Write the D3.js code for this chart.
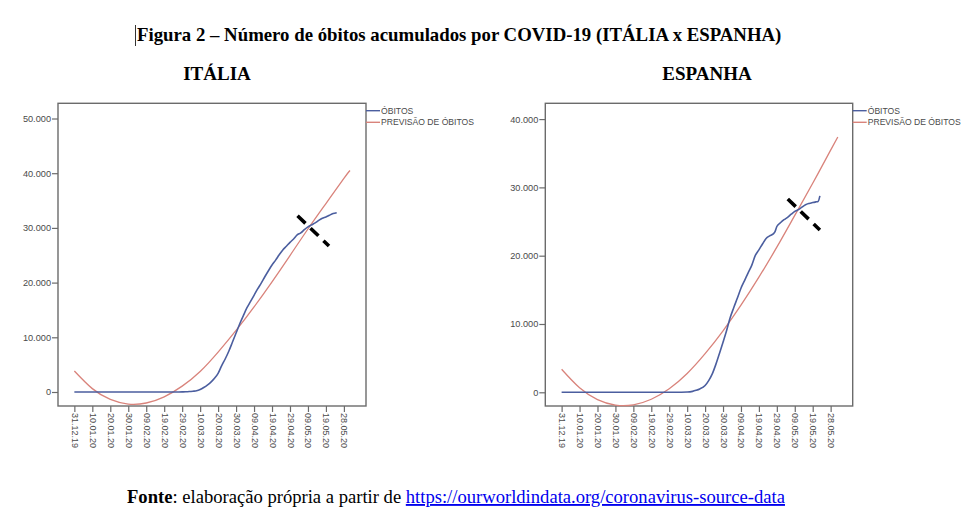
<!DOCTYPE html>
<html><head><meta charset="utf-8">
<script src="https://cdn.jsdelivr.net/npm/d3@7"></script>
<style>
html,body{margin:0;padding:0;background:#fff;}
svg{display:block;}
</style></head>
<body>
<svg id="chart" width="980" height="532"></svg>
<script>
// ---------- DATA ----------
const xTickDays = [0,10,20,30,40,50,60,70,80,90,100,110,120,130,140,150];
const xTickLabels = ["31.12.19","10.01.20","20.01.20","30.01.20","09.02.20","19.02.20","29.02.20","10.03.20","20.03.20","30.03.20","09.04.20","19.04.20","29.04.20","09.05.20","19.05.20","28.05.20"];

const italyYTicks = [0,10000,20000,30000,40000,50000];
const spainYTicks = [0,10000,20000,30000,40000];

// ITÁLIA – óbitos acumulados (day index from 31.12.19)
const italyDays   = [0,54,55,58,60,62,64,66,68,70,72,74,76,78,80,82,84,86,88,90,92,94,96,98,100,102,104,106,108,110,112,114,116,118,120,122,124,126,128,130,132,134,136,138,140,142,144,146];
const italyDeaths = [0,0,3,12,21,34,79,148,233,463,827,1266,1809,2503,3405,4825,6077,7503,9134,10779,12428,13915,15362,16523,17669,18849,19899,21067,22170,23227,24114,25085,25969,26644,27359,27967,28710,29079,29684,30201,30560,30911,31368,31763,32007,32330,32616,32785];
// ITÁLIA – previsão de óbitos
const italyFcDays = [0,10,20,30,40,50,60,70,80,90,100,110,120,130,140,150,153.4];
const italyFc     = [3840,617,-1364,-2205,-2010,-884,1071,3751,7300,11250,15550,20150,24950,29800,34450,39050,40500];
const italyMarker = [[124.2,32230],[141.7,26690]];

// ESPANHA – óbitos acumulados
const spainDays   = [0,60,63,66,70,73,75,77,80,82,84,86,88,90,92,94,96,98,100,102,104,106,108,110,112,114,116,118,119,120,122,124,126,128,130,132,134,136,138,140,142,143,144];
const spainDeaths = [0,0,1,10,35,136,288,491,1002,1720,2696,4089,5690,7340,9053,10935,12418,13798,15238,16353,17489,18579,20043,20852,21717,22524,22902,23190,23521,24275,24824,25264,25613,26070,26478,26744,27104,27459,27650,27778,27888,27940,28752];
// ESPANHA – previsão de óbitos
const spainFcDays = [0,10,20,30,40,50,60,70,80,90,100,110,120,130,140,150,154];
const spainFc     = [3370,661,-1066,-1876,-1838,-1019,515,2750,5650,9000,12750,16850,21250,25900,30600,35450,37380];
const spainMarker = [[126.1,28300],[144.0,23760]];

const legendLabels = ["ÓBITOS","PREVISÃO DE ÓBITOS"];

// ---------- DRAW ----------
const svg = d3.select("#chart");
svg.append("rect").attr("width",980).attr("height",532).attr("fill","#fff");

const BLUE = "#4b5e9f", RED = "#d9837b", AX = "#6b6b6b", TXT = "#4a4a4a";
const fmt = v => d3.format(",")(v).replace(/,/g,".");

function panel(o){
  const g = svg.append("g").attr("transform",`translate(${o.left},${o.top})`);
  const W = o.width, H = o.height;
  const x = d3.scaleLinear().domain([-9.1,162.3]).range([0,W]);
  const y = d3.scaleLinear().domain(o.yDomain).range([H,0]);

  // y axis
  const ya = g.append("g").call(d3.axisLeft(y).tickValues(o.yTicks).tickFormat(fmt).tickSize(6).tickPadding(1));
  ya.select(".domain").remove();
  ya.selectAll("line").attr("stroke",AX).attr("stroke-width",1.2);
  ya.selectAll("text").attr("fill",TXT).attr("font-family","'Liberation Sans',Arial,sans-serif").attr("font-size",9.2);

  // x axis
  const xa = g.append("g").attr("transform",`translate(0,${H})`)
    .call(d3.axisBottom(x).tickValues(xTickDays).tickFormat((d,i)=>xTickLabels[i]).tickSize(6).tickPadding(0));
  xa.select(".domain").remove();
  xa.selectAll("line").attr("stroke",AX).attr("stroke-width",1.2);
  xa.selectAll("text").attr("fill",TXT).attr("font-family","'Liberation Sans',Arial,sans-serif").attr("font-size",9)
    .attr("text-anchor","start").attr("transform","rotate(90)").attr("x",7).attr("y",0).attr("dy","0.33em");

  // frame
  g.append("rect").attr("width",W).attr("height",H).attr("fill","none").attr("stroke",AX).attr("stroke-width",1.4);

  // lines
  const lineB = d3.line().x(d=>x(d[0])).y(d=>y(d[1])).curve(d3.curveMonotoneX);
  const lineR = d3.line().x(d=>x(d[0])).y(d=>y(d[1])).curve(d3.curveNatural);
  g.append("path").datum(o.fcDays.map((d,i)=>[d,o.fc[i]])).attr("d",lineR)
    .attr("fill","none").attr("stroke",RED).attr("stroke-width",1.3);
  g.append("path").datum(o.days.map((d,i)=>[d,o.deaths[i]])).attr("d",lineB)
    .attr("fill","none").attr("stroke",BLUE).attr("stroke-width",1.6);

  // dashed marker
  g.append("path").datum(o.marker).attr("d",d3.line().x(d=>x(d[0])).y(d=>y(d[1])))
    .attr("stroke","#000").attr("stroke-width",3.6).attr("stroke-dasharray","11,7").attr("fill","none");

  // legend
  const lg = g.append("g").attr("transform",`translate(${W},0)`);
  [[BLUE,7.4],[RED,19]].forEach(([c,yy],i)=>{
    lg.append("line").attr("x1",0).attr("x2",14).attr("y1",yy).attr("y2",yy).attr("stroke",c).attr("stroke-width",1.4);
    lg.append("text").attr("x",15).attr("y",yy).attr("dy","0.35em").text(legendLabels[i])
      .attr("fill",TXT).attr("font-family","'Liberation Sans',Arial,sans-serif").attr("font-size",8.6);
  });
}

panel({left:58,top:103.3,width:308,height:302.7,yDomain:[-2560,52780],yTicks:italyYTicks,
  days:italyDays,deaths:italyDeaths,fcDays:italyFcDays,fc:italyFc,marker:italyMarker});
panel({left:545.3,top:103.3,width:307.4,height:302.7,yDomain:[-2006,42310],yTicks:spainYTicks,
  days:spainDays,deaths:spainDeaths,fcDays:spainFcDays,fc:spainFc,marker:spainMarker});

// titles
const serif = "'Liberation Serif','Times New Roman',serif";
svg.append("line").attr("x1",135.5).attr("x2",135.5).attr("y1",25).attr("y2",46).attr("stroke","#333").attr("stroke-width",1);
svg.append("text").attr("x",137).attr("y",41).attr("font-family",serif).attr("font-weight","bold").attr("font-size",18.8).attr("fill","#000")
  .text("Figura 2 – Número de óbitos acumulados por COVID-19 (ITÁLIA x ESPANHA)");
svg.append("text").attr("x",217).attr("y",80).attr("text-anchor","middle").attr("font-family",serif).attr("font-weight","bold").attr("font-size",19).text("ITÁLIA");
svg.append("text").attr("x",707).attr("y",80).attr("text-anchor","middle").attr("font-family",serif).attr("font-weight","bold").attr("font-size",19).text("ESPANHA");

const ft = svg.append("text").attr("x",127).attr("y",503).attr("font-family",serif).attr("font-size",18.6).attr("fill","#000");
ft.append("tspan").attr("font-weight","bold").text("Fonte");
ft.append("tspan").text(": elaboração própria a partir de ");
ft.append("tspan").attr("fill","#0000ee").attr("text-decoration","underline").text("https://ourworldindata.org/coronavirus-source-data");
</script>
</body></html>
